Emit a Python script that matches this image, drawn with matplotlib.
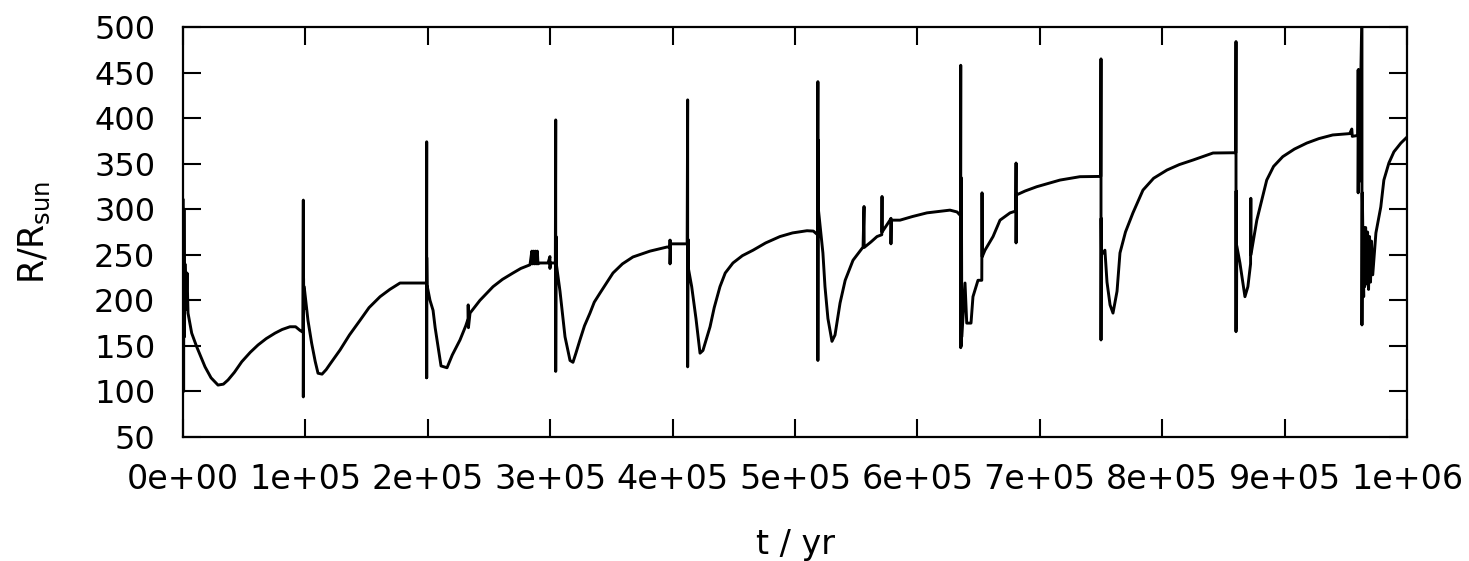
import numpy as np
import matplotlib.pyplot as plt

# stellar radius vs time (t in kyr, R in R_sun)
t_kyr = [
    # first cycle
    0.2, 0.5, 0.8, 1.2, 1.6, 2.5, 3.3, 4.1, 7.1, 11.2, 18, 22.9, 28.6, 33,
    36.8, 42, 48, 55, 61.3, 68, 75.2, 81, 87.4, 92, 95.6, 98.0,
    98.3, 98.3, 98.5, 98.7, 99,
    102.1, 105.1, 108, 110.3, 113.6, 117, 120.1, 128.3, 136, 144.6, 152, 161,
    169, 177.3, 198.9,
    199.1, 199.1, 199.1, 199.4, 199.6,
    201.8, 204.3, 206, 208.3, 210.8, 215.7, 220, 226.3, 231, 233, 233, 233.2,
    234.5, 242.6, 253.3, 261, 269.6, 276, 283.5,
    285, 285.5, 286.5, 287, 288, 288.5, 289.5, 290,
    291.7, 298.2, 299.8, 299.8, 300.2, 304.2,
    304.5, 304.5, 304.8, 305,
    308, 312.1, 316.2, 318.6, 321, 324.3, 328, 332.5, 336, 340.7, 351.3, 359,
    367.6, 381.5, 395.4, 397.9,
    397.9, 397.9, 398.2, 411.9,
    412.3, 412.3, 412.6, 412.9,
    415.6, 419.1, 422.4, 424.8, 427, 430.6, 434, 438.7, 443, 449.3, 457, 465.7,
    476, 487.7, 498, 509.8, 515, 518.4,
    518.7, 518.7, 518.9, 519.1,
    522.8, 524.5, 526.9, 530.2, 532.7, 536.8, 541, 547.4, 555.6,
    556.4, 556.5, 562, 567, 570.9, 571.1, 571.2, 577.6, 578.4, 578.4, 578.6,
    585.8, 596, 607.8, 626.6, 632.4, 635.2,
    635.4, 635.4, 635.6, 635.8, 636, 636.3,
    638.9, 640.3, 643.8, 645.4, 649.5, 652.6, 652.8, 653, 655.2, 661.8, 667.5,
    675.7, 680.4,
    680.6, 680.6, 680.8,
    688, 697.5, 716.5, 732.8, 749.8,
    750, 750, 750.2, 750.4,
    753.2, 754.9, 757.4, 759.8, 763.1, 765.5, 770, 776.1, 784.3, 793, 803.9,
    814, 825.2, 841.5, 860.1,
    860.3, 860.3, 860.5, 860.7, 860.9,
    863.5, 867.6, 870, 872.2, 872.4, 872.5, 877.3, 885.4, 891, 898.5, 908,
    918.1, 928, 939.3, 953.2, 954.9, 955.3, 959.9,
    960.1, 960.1, 960.5, 960.8,
    963.2, 963.2, 963.5, 964.6, 964.6,
    965.4, 966.2, 967, 967.8, 968.6, 969.4, 970.2, 971, 972,
    974.6, 978.6, 981.1, 985.2, 989.3, 995, 999.1,
]
radius = [
    310, 100, 300, 160, 240, 190, 230, 186, 164, 149, 127, 115, 107, 108,
    112.6, 121, 132.6, 143, 151, 158, 164, 168, 171, 171, 167, 165,
    310, 94, 224, 190, 215,
    178, 153, 133, 120, 119, 124, 130, 145.5, 162, 178, 192, 204,
    212, 219, 219,
    374, 115, 247, 205, 215,
    200, 189, 170, 150, 128, 126, 140, 156.5, 172, 180, 195, 170,
    186, 200, 215, 223, 230, 235, 239,
    254, 240, 254, 240, 254, 240, 254, 240,
    241, 241, 248, 235, 241, 241,
    398, 122, 270, 240,
    210, 160, 134, 132, 142, 156.5, 172, 186, 198, 208, 230, 240,
    247.6, 254, 258.5, 258.5,
    266, 240, 262, 262,
    420, 127, 267, 235,
    215, 180, 142, 145, 155, 171, 192, 215, 230, 241, 249, 255,
    263, 270, 274, 276.4, 276, 272,
    440, 134, 376, 300,
    252, 215, 180, 155, 162, 197, 222, 244, 258.5,
    303, 258, 264, 270, 272, 314, 275, 288, 290, 262, 288,
    288, 292, 296, 299, 297, 293,
    458, 148, 335, 150, 300, 160,
    219, 175, 175, 204, 222, 222, 318, 248, 255, 270, 288,
    296, 298,
    350.7, 263, 315.6,
    320, 324.7, 332, 335.7, 336,
    465, 156.5, 290, 250,
    255, 220, 195, 186, 210, 252, 275, 296, 321, 334, 343,
    349, 354, 361.7, 362,
    484, 165.6, 320, 170, 260,
    241, 204, 215, 240, 312, 250, 288, 332, 347, 357.7, 366,
    372.6, 377.5, 381.5, 383, 388, 380, 381,
    453, 318, 453, 330,
    520, 173, 318, 204, 280,
    215, 280, 218, 275, 212, 270, 220, 265, 228,
    274, 302.6, 332, 350.7, 363, 372.6, 378,
]

x_ticks = np.arange(0, 1.0e6 + 1, 1e5)
y_ticks = np.arange(50, 501, 50)

t = np.array(t_kyr) * 1e3

fig = plt.figure(figsize=(14.69, 5.61), dpi=100)
ax = fig.add_axes([183 / 1469, 1 - 437 / 561, 1224 / 1469, 410 / 561])

ax.plot(t, radius, color="black", lw=2.1)

ax.set_xlim(0, 1e6)
ax.set_ylim(50, 500)
ax.set_xticks(x_ticks)
ax.set_xticklabels(["%.0e" % v for v in x_ticks])
ax.set_yticks(y_ticks)

ax.tick_params(direction="in", length=13, width=1.5, top=True, right=True,
               labelsize=23, colors="black")
ax.tick_params(axis="x", pad=19, labelsize=24)
ax.tick_params(axis="y", pad=20)
for s in ax.spines.values():
    s.set_linewidth(1.6)

ax.set_xlabel("t / yr", fontsize=24, labelpad=23)
ax.set_ylabel(r"R/R$_{\mathregular{sun}}$", fontsize=25, labelpad=30)

fig.savefig("out.png", dpi=100)
